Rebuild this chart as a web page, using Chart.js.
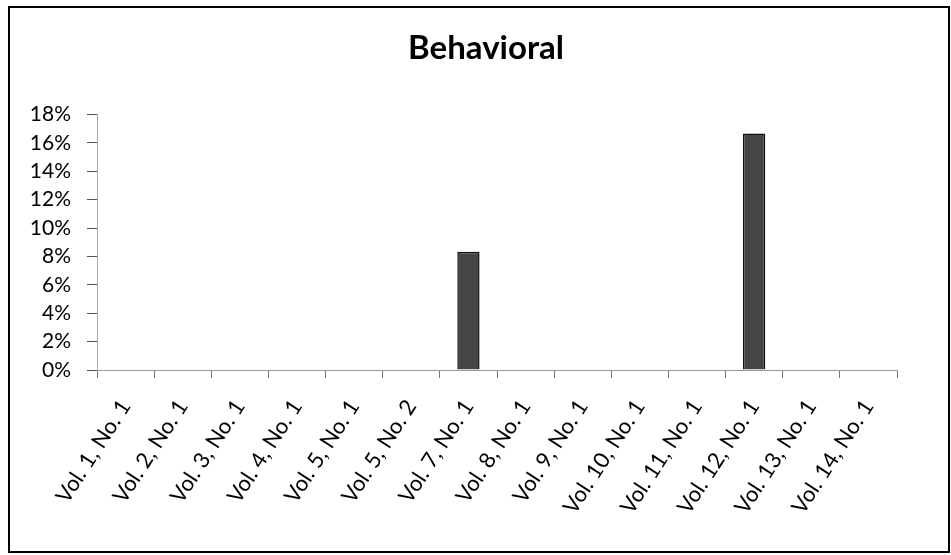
<!DOCTYPE html>
<html>
<head>
<meta charset="utf-8">
<script src="https://cdn.jsdelivr.net/npm/chart.js@4/dist/chart.umd.min.js"></script>
<style>
  html, body { margin: 0; padding: 0; background: #fff; }
  #wrap { width: 951px; height: 555px; position: relative; }
</style>
</head>
<body>
<div id="wrap"><canvas id="c" width="951" height="555"></canvas></div>
<script>
// Issues along the x axis
const categories = [
  'Vol. 1, No. 1', 'Vol. 2, No. 1', 'Vol. 3, No. 1', 'Vol. 4, No. 1',
  'Vol. 5, No. 1', 'Vol. 5, No. 2', 'Vol. 7, No. 1', 'Vol. 8, No. 1',
  'Vol. 9, No. 1', 'Vol. 10, No. 1', 'Vol. 11, No. 1', 'Vol. 12, No. 1',
  'Vol. 13, No. 1', 'Vol. 14, No. 1'
];
// Share of behavioral items per issue (fraction)
const behavioral = [0, 0, 0, 0, 0, 0, 0.0833, 0, 0, 0, 0, 0.1667, 0, 0];
// Y axis range and step
const yMin = 0;
const yMax = 0.18;
const yStep = 0.02;

const FONT = 'Lato, "Open Sans", "DejaVu Sans", sans-serif';

// Frame around the whole chart; title centred within the frame
const framePlugin = {
  id: 'frame',
  afterLayout(chart) {
    if (chart.titleBlock) {
      chart.titleBlock.left = 21;
      chart.titleBlock.right = 951;
    }
  },
  afterDraw(chart) {
    const ctx = chart.ctx;
    ctx.save();
    ctx.strokeStyle = '#000';
    ctx.lineWidth = 2;
    ctx.strokeRect(9, 7, 940, 545);
    ctx.restore();
  }
};

new Chart(document.getElementById('c'), {
  type: 'bar',
  data: {
    labels: categories,
    datasets: [{
      label: 'Behavioral',
      data: behavioral,
      backgroundColor: '#454545',
      borderColor: '#111',
      borderWidth: 1.5,
      categoryPercentage: 1,
      barPercentage: 0.39
    }]
  },
  options: {
    responsive: false,
    animation: false,
    layout: { padding: { left: 0, right: 54, top: 0, bottom: 0 } },
    plugins: {
      legend: { display: false },
      tooltip: { enabled: false },
      title: {
        display: true,
        text: 'Behavioral',
        color: '#000',
        font: { family: FONT, size: 33, weight: 'bold' },
        padding: { top: 29, bottom: 46 }
      }
    },
    scales: {
      x: {
        offset: true,
        grid: {
          display: true,
          drawOnChartArea: false,
          drawTicks: true,
          tickLength: 8,
          color: '#777',
          offset: true
        },
        border: { display: true, color: '#999', width: 1 },
        ticks: {
          color: '#000',
          font: { family: FONT, size: 22 },
          minRotation: 57,
          maxRotation: 57,
          autoSkip: false,
          padding: 17
        },
        afterFit(scale) { scale.height = 185; }
      },
      y: {
        min: yMin,
        max: yMax,
        grid: {
          display: true,
          drawOnChartArea: false,
          drawTicks: true,
          tickLength: 10,
          color: '#555'
        },
        border: { display: true, color: '#aaa', width: 1, dash: [2, 1] },
        ticks: {
          stepSize: yStep,
          color: '#000',
          font: { family: FONT, size: 21 },
          padding: 16,
          callback: (v) => Math.round(v * 100) + '%'
        },
        afterFit(scale) { scale.width = 97; }
      }
    }
  },
  plugins: [framePlugin]
});
</script>
</body>
</html>
